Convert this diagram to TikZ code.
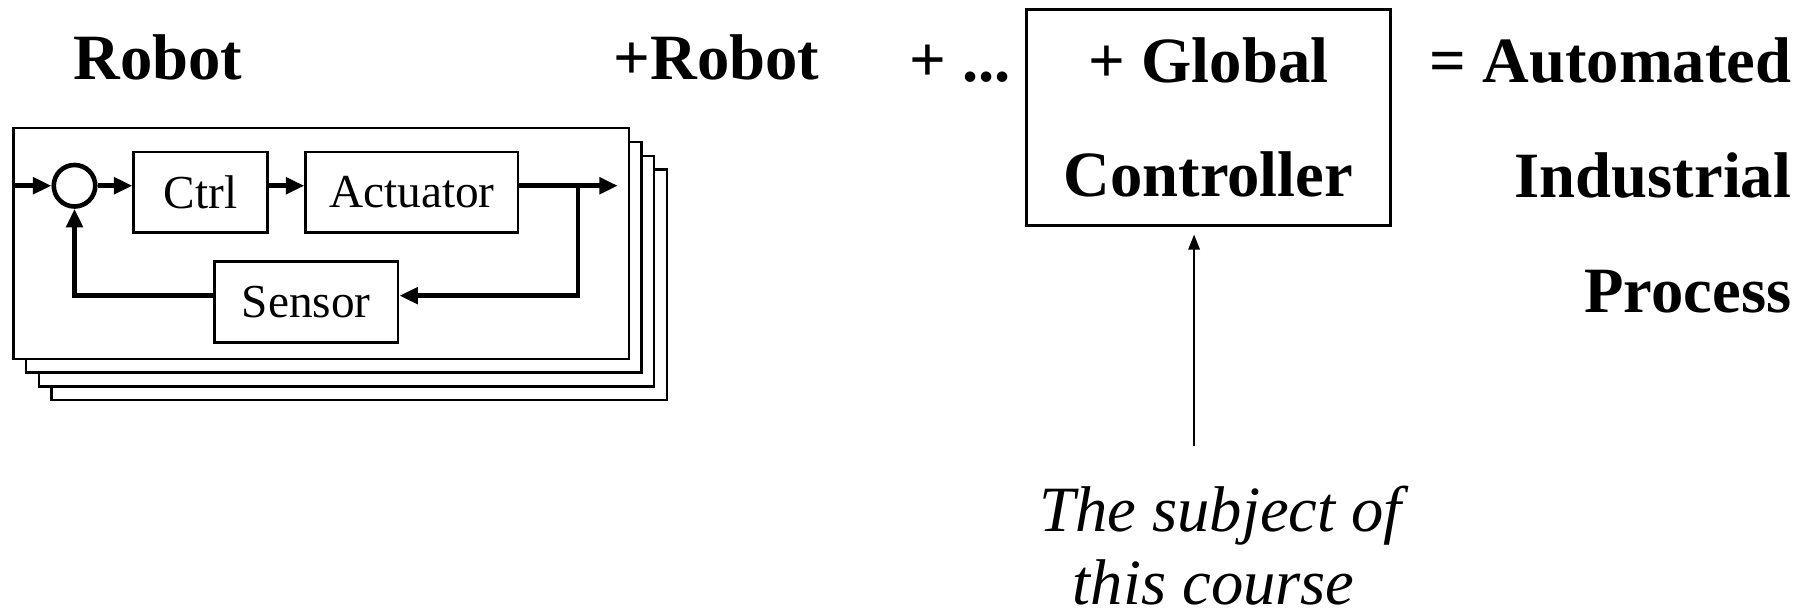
\documentclass[tikz,border=0pt]{standalone}
\usepackage{fontspec}
\setmainfont{Liberation Serif}
\usetikzlibrary{arrows.meta}

\tikzset{
  blk/.style={draw,rectangle,line width=1.2pt,minimum height=35pt,inner sep=0pt,
    font=\fontsize{20.5pt}{24pt}\selectfont},
  sig/.style={line width=2pt},
  bigtxt/.style={inner sep=0pt,font=\fontsize{28pt}{34pt}\selectfont\bfseries},
  ittxt/.style={inner sep=0pt,font=\fontsize{28pt}{34pt}\selectfont\itshape},
}

\begin{document}
\begin{tikzpicture}[x=0.5pt,y=-0.5pt,>={Triangle[length=8pt,width=7pt]},line join=miter]
\useasboundingbox (0,0) rectangle (1568,533);
%% stack of robots, back to front
\foreach \i in {3,2,1,0}
  \draw [fill=white,line width=1pt] (11.6+11*\i,111+12*\i) rectangle +(533.5,200);
%% one control loop
  \node (sum) at (64.6,161) [draw,circle,line width=2pt,minimum size=18pt,inner sep=0pt] {};
  \node (ctrl) at (174,166.7) [blk,minimum width=58pt] {Ctrl};
  \node (act) at (357,166.7) [blk,minimum width=92pt] {Actuator};
  \node (sens) at (265.5,262) [blk,minimum width=79.5pt] {Sensor};
  \coordinate (in) at (11.6,161);
  \coordinate (out) at (535.5,161);
  \coordinate (tap) at (501,161);
  \coordinate (fb) at (501,256.3);
  \draw [->,sig] (in) -- (sum);
  \draw [->,sig] (sum) -- (sum -| ctrl.west);
  \draw [->,sig] (ctrl.east |- sum) -- (act.west |- sum);
  \draw [->,sig] (act.east |- sum) -- (out);
  \draw [->,sig] (tap) -- (fb) -- (fb -| sens.east);
  \draw [->,sig] (fb -| sens.west) -| (sum.south);
%% sum of the parts
  \node (robot) at (137,69) [bigtxt,anchor=base] {Robot};
  \node (robot2) at (621,69) [bigtxt,anchor=base] {+Robot};
  \node (more) at (832,71) [bigtxt,anchor=base] {+ ...};
  \node (global) at (1047.5,101.6) [draw,rectangle,line width=1.3pt,minimum width=157.5pt,
    minimum height=93.5pt,inner sep=0pt,align=center,
    font=\fontsize{28pt}{49.65pt}\selectfont\bfseries] {+ Global\\Controller};
  \node (aut) at (1553,71.6) [bigtxt,anchor=base east] {= Automated};
  \node (ind) at (1553,171) [bigtxt,anchor=base east] {Industrial};
  \node (proc) at (1553,271) [bigtxt,anchor=base east] {Process};
%% the course
  \node (subj1) at (1058,461) [ittxt,anchor=base] {The subject of};
  \node (subj2) at (1052,524) [ittxt,anchor=base] {this course};
  \coordinate (cfoot) at (1035,387);
  \draw [-{Triangle[length=6.5pt,width=5pt]},line width=0.75pt,shorten >=3.5pt] (cfoot) -- (cfoot |- global.south);
%
\end{tikzpicture}
\end{document}
